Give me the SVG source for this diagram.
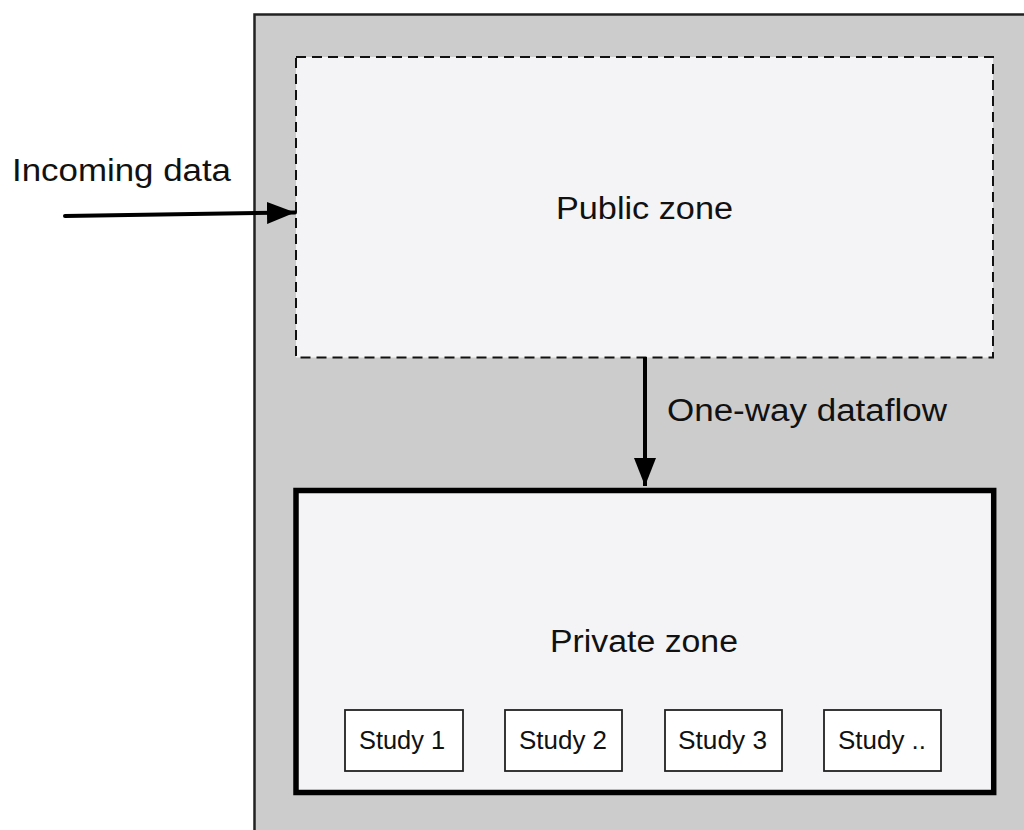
<svg xmlns="http://www.w3.org/2000/svg" width="1024" height="830" viewBox="0 0 1024 830">
<style>
text{font-family:"Liberation Sans",Arial,sans-serif;fill:#111}
.big{font-size:31px}
.small{font-size:25px}
.study{fill:#fff;stroke:#222;stroke-width:1.8}
</style>
<defs>
<marker id="ah2" markerWidth="28" markerHeight="22" refX="28" refY="11" orient="auto" markerUnits="userSpaceOnUse" viewBox="0 0 28 22">
<path d="M0,0 L28,11 L0,22 z" fill="#000"/>
</marker>
</defs>
<rect width="1024" height="830" fill="#fff"/>
<g id="outer">
<rect x="254.5" y="14.5" width="800" height="850" fill="#cccccc" stroke="#222" stroke-width="2.5"/>
</g>
<g id="public">
<rect x="296" y="57" width="697" height="300.5" fill="#f4f4f6" stroke="#111" stroke-width="2" stroke-dasharray="10,6"/>
<text class="big" x="556" y="219" textLength="177" lengthAdjust="spacingAndGlyphs">Public zone</text>
</g>
<g id="private">
<rect x="296" y="490.5" width="697.7" height="302" fill="#f4f4f6" stroke="#000" stroke-width="5.5"/>
<text class="big" x="550" y="652" textLength="188" lengthAdjust="spacingAndGlyphs">Private zone</text>
</g>
<g id="study1"><rect class="study" x="345" y="710" width="118" height="61"/><text class="small" x="359" y="749" textLength="86" lengthAdjust="spacingAndGlyphs">Study 1</text></g>
<g id="study2"><rect class="study" x="505" y="710" width="117" height="61"/><text class="small" x="519" y="749" textLength="88" lengthAdjust="spacingAndGlyphs">Study 2</text></g>
<g id="study3"><rect class="study" x="665" y="710" width="117" height="61"/><text class="small" x="678" y="749" textLength="89" lengthAdjust="spacingAndGlyphs">Study 3</text></g>
<g id="study4"><rect class="study" x="824" y="710" width="117" height="61"/><text class="small" x="838" y="749" textLength="88" lengthAdjust="spacingAndGlyphs">Study ..</text></g>
<g id="connectors">
<line x1="65" y1="216" x2="295" y2="212.5" stroke="#000" stroke-width="4" stroke-linecap="round" marker-end="url(#ah2)"/>
<line x1="645" y1="357" x2="645" y2="486" stroke="#000" stroke-width="4" marker-end="url(#ah2)"/>
</g>
<text class="big" x="12" y="181" textLength="219" lengthAdjust="spacingAndGlyphs">Incoming data</text>
<text class="big" x="667" y="421" textLength="280" lengthAdjust="spacingAndGlyphs">One-way dataflow</text>
</svg>
